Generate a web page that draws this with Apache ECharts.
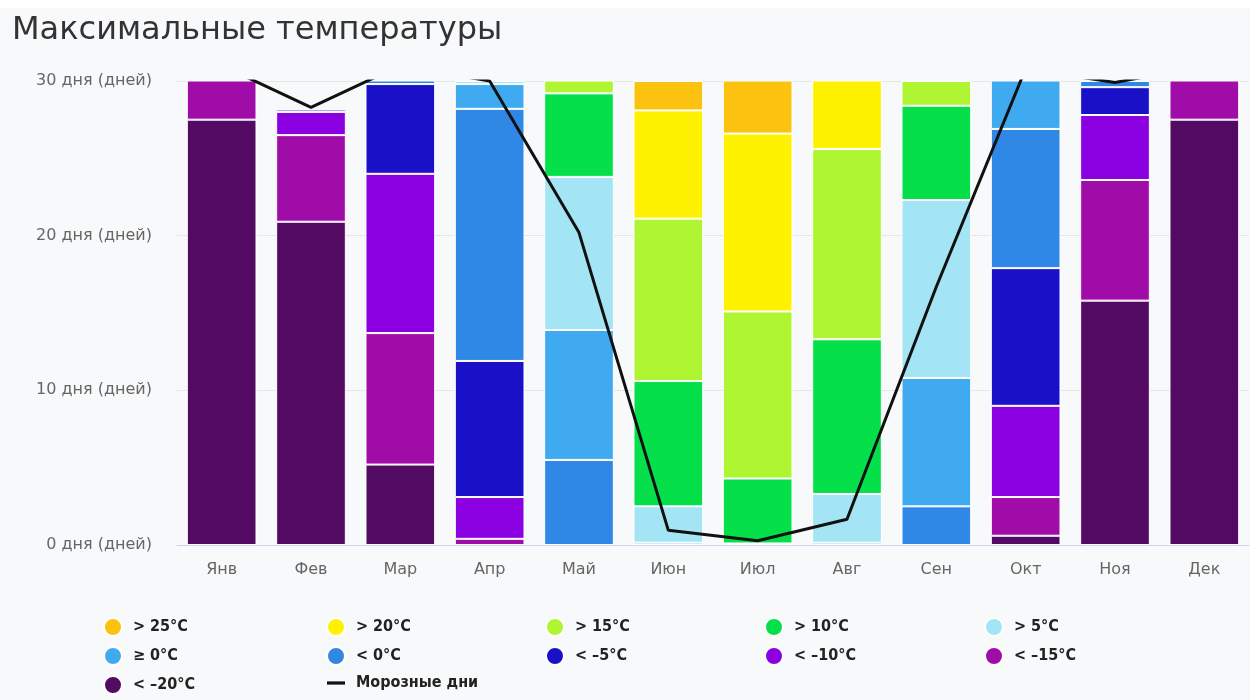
<!DOCTYPE html>
<html>
<head>
<meta charset="utf-8">
<title>Максимальные температуры</title>
<script src="https://cdn.jsdelivr.net/npm/echarts@6/dist/echarts.min.js"></script>
<style>
  html, body { margin: 0; padding: 0; background: #ffffff; }
  #chart { width: 1256px; height: 700px; }
</style>
</head>
<body>
<div id="chart"></div>
<script>
// Months and y-axis ticks
const months = ['Янв', 'Фев', 'Мар', 'Апр', 'Май', 'Июн', 'Июл', 'Авг', 'Сен', 'Окт', 'Ноя', 'Дек'];
const yTicks = [0, 10, 20, 30];

// Days per month by daily maximum temperature band (stacked bottom to top)
const below20 = [27.5, 20.9, 5.2, 0, 0, 0, 0, 0, 0, 0.6, 15.8, 27.5];
const below15 = [3.5, 5.6, 8.5, 0.4, 0, 0, 0, 0, 0, 2.5, 7.8, 3.5];
const below10 = [0, 1.5, 10.3, 2.7, 0, 0, 0, 0, 0, 5.9, 4.2, 0];
const below5  = [0, 0.15, 5.8, 8.8, 0, 0, 0, 0, 0, 8.9, 1.8, 0];
const below0  = [0, 0, 1.2, 16.3, 5.5, 0, 0, 0, 2.5, 9.0, 0.4, 0];
const above0  = [0, 0, 0, 1.6, 8.4, 0.15, 0, 0.15, 8.3, 4.1, 0, 0];
const above5  = [0, 0, 0, 0.2, 9.9, 2.35, 0.1, 3.15, 11.5, 0, 0, 0];
const above10 = [0, 0, 0, 0, 5.4, 8.1, 4.2, 10.0, 6.1, 0, 0, 0];
const above15 = [0, 0, 0, 0, 1.8, 10.5, 10.8, 12.3, 1.6, 0, 0, 0];
const above20 = [0, 0, 0, 0, 0, 7.0, 11.5, 5.4, 0, 0, 0, 0];
const above25 = [0, 0, 0, 0, 0, 1.9, 4.4, 0, 0, 0, 0, 0];

// Frost days per month
const frostDays = [31, 28.3, 31, 30, 20.2, 0.95, 0.28, 1.66, 16.7, 30.8, 29.9, 31];

const bands = [
  { name: '< –20°C', data: below20, color: '#530a62' },
  { name: '< –15°C', data: below15, color: '#a00ca8' },
  { name: '< –10°C', data: below10, color: '#8a00e0' },
  { name: '< –5°C',  data: below5,  color: '#1a10c8' },
  { name: '< 0°C',   data: below0,  color: '#3088e6' },
  { name: '≥ 0°C',   data: above0,  color: '#40aaf0' },
  { name: '> 5°C',   data: above5,  color: '#a3e4f5' },
  { name: '> 10°C',  data: above10, color: '#05e04a' },
  { name: '> 15°C',  data: above15, color: '#b0f532' },
  { name: '> 20°C',  data: above20, color: '#fff200' },
  { name: '> 25°C',  data: above25, color: '#fbc20f' }
];
const frostName = 'Морозные дни';

const barSeries = bands.map(b => ({
  name: b.name,
  type: 'bar',
  stack: 'days',
  barCategoryGap: '22%',
  clip: true,
  itemStyle: { color: b.color, borderColor: '#ffffff', borderWidth: 1 },
  emphasis: { disabled: true },
  data: b.data.map(v => (v === 0 ? null : v))
}));

const frostSeries = {
  name: frostName,
  type: 'line',
  data: frostDays,
  symbol: 'none',
  clip: true,
  z: 5,
  itemStyle: { color: '#111111' },
  lineStyle: { color: '#111111', width: 3 }
};

// Legend laid out in five columns
const legendColumns = [
  { left: 103, items: ['> 25°C', '≥ 0°C', '< –20°C'] },
  { left: 326, items: ['> 20°C', '< 0°C', frostName] },
  { left: 545, items: ['> 15°C', '< –5°C'] },
  { left: 764, items: ['> 10°C', '< –10°C'] },
  { left: 984, items: ['> 5°C', '< –15°C'] }
];

const legends = legendColumns.map(col => ({
  orient: 'vertical',
  left: col.left,
  top: 617,
  height: 83,
  padding: 0,
  itemWidth: 18,
  itemHeight: 18,
  itemGap: 9,
  icon: 'circle',
  selectedMode: false,
  data: col.items.map(n => (n === frostName
    ? { name: n, icon: 'path://M0,0H20V3.6H0Z', itemStyle: { color: '#111111' } }
    : { name: n })),
  textStyle: {
    color: '#222222',
    fontSize: 16,
    fontWeight: 'bold',
    fontFamily: '"DejaVu Sans Condensed", "DejaVu Sans", sans-serif',
    padding: [0, 0, 0, 6]
  }
}));

const chart = echarts.init(document.getElementById('chart'));
chart.setOption({
  animation: false,
  backgroundColor: '#ffffff',
  graphic: [{
    type: 'rect',
    z: -10,
    silent: true,
    shape: { x: 0, y: 8, width: 1250, height: 692 },
    style: { fill: '#f8f9fa' }
  }],
  title: {
    text: 'Максимальные температуры',
    left: 8,
    top: 15,
    padding: [0, 4],
    textStyle: {
      color: '#333333',
      fontSize: 32,
      fontWeight: 'normal',
      fontFamily: '"DejaVu Sans", sans-serif'
    }
  },
  legend: legends,
  grid: { left: 177, right: 7, top: 81, bottom: 155, containLabel: false },
  xAxis: {
    type: 'category',
    data: months,
    axisTick: { show: false },
    axisLine: { lineStyle: { color: '#ccd6eb' } },
    axisLabel: {
      color: '#666666',
      fontSize: 16,
      margin: 17,
      fontFamily: '"DejaVu Sans", sans-serif'
    }
  },
  yAxis: {
    type: 'value',
    min: yTicks[0],
    max: yTicks[yTicks.length - 1],
    interval: yTicks[1] - yTicks[0],
    axisLine: { show: false },
    axisTick: { show: false },
    splitLine: { lineStyle: { color: '#e6e6e6' } },
    axisLabel: {
      color: '#666666',
      fontSize: 16,
      margin: 25,
      fontFamily: '"DejaVu Sans", sans-serif',
      formatter: v => v + ' дня (дней)'
    }
  },
  series: [...barSeries, frostSeries]
});
</script>
</body>
</html>
